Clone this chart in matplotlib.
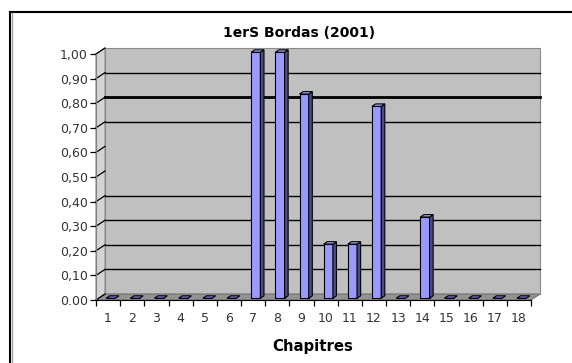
import matplotlib
matplotlib.use("Agg")
import matplotlib.pyplot as plt
from matplotlib.patches import Polygon, Rectangle
from matplotlib.lines import Line2D

# ---- data ----
categories = list(range(1, 19))
values = [0, 0, 0, 0, 0, 0, 1.00, 1.00, 0.83, 0.22, 0.22, 0.78, 0, 0.33, 0, 0, 0, 0]
ytick_values = [0.0, 0.1, 0.2, 0.3, 0.4, 0.5, 0.6, 0.7, 0.8, 0.9, 1.0]
ytick_labels = ["0.00", "0,10", "0,20", "0,30", "0,40", "0,50", "0,60", "0,70", "0,80", "0,90", "1,00"]
thin_grid = [0.1, 0.2, 0.3, 0.4, 0.7, 0.9]
thick_grid = [0.8]
title = "1erS Bordas (2001)"
xlabel = "Chapitres"

# ---- styling / geometry ----
W, H = 572, 363
fig = plt.figure(figsize=(W / 100, H / 100), dpi=100)
fig.patch.set_facecolor("white")

ax_left, ax_bottom, ax_w, ax_h = 96, 63, 435, 246
ax = fig.add_axes([ax_left / W, ax_bottom / H, ax_w / W, ax_h / H])
ax.set_facecolor("none")
n = len(categories)
ax.set_xlim(0.5, n + 0.5)
ax.set_ylim(0, 1)

# depth offset (oblique 3D) in data units
DX = 9 / (ax_w / n)
DY = 6 / ax_h

x0, x1 = 0.5, n + 0.5
# back wall
ax.add_patch(Rectangle((x0 + DX, DY), n, 1, facecolor="#C0C0C0", edgecolor="#8A8A8A",
                       lw=0.8, clip_on=False, zorder=1))
# side wall
ax.add_patch(Polygon([(x0, 0), (x0 + DX, DY), (x0 + DX, 1 + DY), (x0, 1)], closed=True,
                     facecolor="#D4D4D4", edgecolor="#8A8A8A", lw=0.8, clip_on=False, zorder=1))
# floor
ax.add_patch(Polygon([(x0, 0), (x1, 0), (x1 + DX, DY), (x0 + DX, DY)], closed=True,
                     facecolor="#939393", edgecolor="#707070", lw=0.8, clip_on=False, zorder=1))

# gridlines on back wall
for g in thin_grid:
    ax.plot([x0 + DX, x1 + DX], [g + DY, g + DY], color="black", lw=1.0, clip_on=False, zorder=2)
for g in thick_grid:
    ax.plot([x0 + DX, x1 + DX], [g + DY, g + DY], color="black", lw=2.0, clip_on=False, zorder=2)
# diagonal ticks on side wall
for g in ytick_values:
    ax.plot([x0, x0 + DX], [g, g + DY], color="black", lw=0.9, clip_on=False, zorder=2)

# bars
d0, d1 = 0.3, 0.7
hw = 0.19
xs = [c + d0 * DX for c in categories]
ax.bar(xs, values, width=2 * hw, bottom=d0 * DY, color="#9999FF", edgecolor="black",
       lw=0.8, zorder=4, clip_on=False)
ddx, ddy = (d1 - d0) * DX, (d1 - d0) * DY
for c, v in zip(categories, values):
    xl = c - hw + d0 * DX
    xr = c + hw + d0 * DX
    yb = d0 * DY
    yt = v + d0 * DY
    if v > 0:
        ax.add_patch(Polygon([(xr, yb), (xr + ddx, yb + ddy), (xr + ddx, yt + ddy), (xr, yt)],
                             closed=True, facecolor="#4B4B90", edgecolor="black", lw=0.8,
                             zorder=4, clip_on=False))
    ax.add_patch(Polygon([(xl, yt), (xr, yt), (xr + ddx, yt + ddy), (xl + ddx, yt + ddy)],
                         closed=True, facecolor="#A8A8F8" if v > 0 else "#7C7CDC",
                         edgecolor="black", lw=0.8, zorder=5, clip_on=False))

# axes / ticks
for s in ["top", "right"]:
    ax.spines[s].set_visible(False)
ax.spines["left"].set_color("#808080")
ax.spines["bottom"].set_color("black")
ax.spines["left"].set_zorder(3)
ax.spines["bottom"].set_zorder(3)
ax.set_yticks(ytick_values, ytick_labels)
ax.tick_params(axis="y", direction="out", length=4, width=0.9, pad=2,
               labelsize=9, labelcolor="#333333", color="black")
ax.set_xticks(categories, [str(c) for c in categories])
ax.set_xticks([c + 0.5 for c in [0] + categories], minor=True)
ax.tick_params(axis="x", which="major", length=0, pad=9, labelsize=9, labelcolor="#333333")
ax.tick_params(axis="x", which="minor", direction="out", length=4.5, width=0.9, color="black")

# titles
fig.text(299 / W, 1 - 33 / H, title, ha="center", va="center", fontsize=10,
         fontweight="bold", color="black")
fig.text(313 / W, 1 - 346 / H, xlabel, ha="center", va="center", fontsize=10.7,
         fontweight="bold", color="black")

# outer chart-area frame (partially visible)
fig.add_artist(Line2D([10 / W, 10 / W], [0, 1 - 12 / H], color="black", lw=1.5,
                      transform=fig.transFigure))
fig.add_artist(Line2D([10 / W, 1], [1 - 12 / H, 1 - 12 / H], color="black", lw=1.5,
                      transform=fig.transFigure))
fig.add_artist(Line2D([11.7 / W, 11.7 / W], [0, 1 - 13 / H], color="#A0A0A0", lw=1.0,
                      transform=fig.transFigure))

fig.savefig("out.png", dpi=100)
